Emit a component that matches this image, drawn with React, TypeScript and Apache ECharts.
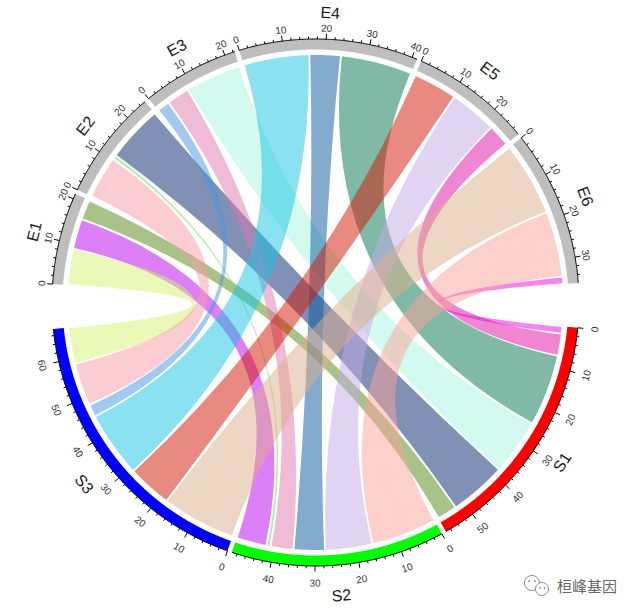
import React, { useEffect, useRef } from 'react';
import * as echarts from 'echarts';

// ---------------- data ----------------
const eSectors = ['E1', 'E2', 'E3', 'E4', 'E5', 'E6'];
const sSectors = ['S1', 'S2', 'S3'];
// link widths: one array per S sector, entries for E1..E6
const s1Links = [4.9, 13.9, 13.7, 17.5, 5.4, 1.8];
const s2Links = [7.4, 1.0, 5.6, 7.6, 11.6, 16.0];
const s3Links = [8.9, 10.5, 3.1, 16.1, 10.8, 18.1];
// link colours (drawn with 50% transparency)
const s1LinkColors = ['#53850F', '#03236D', '#A7F5DD', '#01754D', '#DD0DA5', '#EB0BDD'];
const s2LinkColors = ['#BB00EF', '#6BDD61', '#DF77AD', '#07579D', '#C3A9E5', '#FBA199'];
const s3LinkColors = ['#D5F171', '#F79BA7', '#4793DF', '#15C3E1', '#D11501', '#DDAD8B'];
const eTrackColor = '#BEBEBE';
const sTrackColors = ['#FF0000', '#00FF00', '#0000FF'];
const majorTickStep = 10;
const minorTickStep = 2;

// ---------------- layout ----------------
const matrix = [s1Links, s2Links, s3Links];
const colorMatrix = [s1LinkColors, s2LinkColors, s3LinkColors];
const eSizes = eSectors.map((_, j) => matrix.reduce((s, row) => s + row[j], 0));
const sSizes = matrix.map((row) => row.reduce((a, b) => a + b, 0));
const GAP_SMALL = 1.05;
const GAP_BIG = 10.2;

type Sector = { name: string; start: number; size: number; color: string; group: 'E' | 'S' };
const sectors: Sector[] = [];
let cursor = 0;
eSectors.forEach((n, j) => {
  sectors.push({ name: n, start: cursor, size: eSizes[j], color: eTrackColor, group: 'E' });
  cursor += eSizes[j] + (j < eSectors.length - 1 ? GAP_SMALL : GAP_BIG);
});
sSectors.forEach((n, i) => {
  sectors.push({ name: n, start: cursor, size: sSizes[i], color: sTrackColors[i], group: 'S' });
  cursor += sSizes[i] + (i < sSectors.length - 1 ? GAP_SMALL : GAP_BIG);
});
const TOTAL = cursor;

type Link = { e: [number, number]; s: [number, number]; color: string };
const eRanges: [number, number][][] = matrix.map(() => []);
eSectors.forEach((_, j) => {
  let off = sectors[j].start;
  for (const i of [2, 1, 0]) {
    eRanges[i][j] = [off, off + matrix[i][j]];
    off += matrix[i][j];
  }
});
const sRanges: [number, number][][] = matrix.map(() => []);
sSectors.forEach((_, i) => {
  let off = sectors[eSectors.length + i].start;
  for (const j of [5, 4, 3, 2, 1, 0]) {
    sRanges[i][j] = [off, off + matrix[i][j]];
    off += matrix[i][j];
  }
});
const links: Link[] = [];
eSectors.forEach((_, j) => {
  [0, 1, 2].forEach((i) => {
    links.push({ e: eRanges[i][j], s: sRanges[i][j], color: colorMatrix[i][j] });
  });
});

type Tick = { sector: number; value: number; major: boolean };
const ticksPerSector: Tick[][] = sectors.map((sec, si) => {
  const out: Tick[] = [];
  for (let v = 0; v <= sec.size + 1e-6; v += minorTickStep) {
    out.push({ sector: si, value: v, major: Math.abs(v % majorTickStep) < 1e-6 });
  }
  return out;
});

// radii in px (radius axis runs 0..300 over 300px)
const R_OUT = 263.5;
const R_IN = 253;
const R_LINK = 247.5;
const R_MAJOR = 269;
const R_MINOR = 266;
const SHRINK = 0.22;
const FONT = '"Liberation Sans", Arial, Helvetica, sans-serif';

function hexToRgba(hex: string, a: number) {
  const n = parseInt(hex.slice(1), 16);
  return `rgba(${(n >> 16) & 255},${(n >> 8) & 255},${n & 255},${a})`;
}

function arcPoints(api: any, a0: number, a1: number, r: number) {
  const n = Math.max(2, Math.ceil(Math.abs(a1 - a0) / 0.25));
  const pts: number[][] = [];
  for (let k = 0; k <= n; k++) pts.push(api.coord([r, a0 + ((a1 - a0) * k) / n]));
  return pts;
}

function textRotation(api: any, p: number[]) {
  const c = api.coord([0, 0]);
  const theta = (Math.atan2(-(p[1] - c[1]), p[0] - c[0]) * 180) / Math.PI;
  let rot = theta - 90;
  while (rot > 90) rot -= 180;
  while (rot <= -90) rot += 180;
  return (rot * Math.PI) / 180;
}

const renderLink = (params: any, api: any) => {
  const L = links[params.dataIndex];
  const c = api.coord([0, 0]);
  const a1 = L.e[0] + SHRINK, a2 = L.e[1] - SHRINK;
  const b1 = L.s[0] + SHRINK, b2 = L.s[1] - SHRINK;
  const arcA = arcPoints(api, a1, a2, R_LINK);
  const arcB = arcPoints(api, b1, b2, R_LINK);
  let d = `M${arcA[0][0]},${arcA[0][1]}`;
  for (let k = 1; k < arcA.length; k++) d += `L${arcA[k][0]},${arcA[k][1]}`;
  d += `Q${c[0]},${c[1]} ${arcB[0][0]},${arcB[0][1]}`;
  for (let k = 1; k < arcB.length; k++) d += `L${arcB[k][0]},${arcB[k][1]}`;
  d += `Q${c[0]},${c[1]} ${arcA[0][0]},${arcA[0][1]}Z`;
  return {
    type: 'path',
    shape: { pathData: d },
    style: { fill: hexToRgba(L.color, 0.5), stroke: null },
  };
};

const renderTrack = (params: any, api: any) => {
  const sec = sectors[params.dataIndex];
  const outer = arcPoints(api, sec.start, sec.start + sec.size, R_OUT);
  const inner = arcPoints(api, sec.start + sec.size, sec.start, R_IN);
  const ticks = ticksPerSector[params.dataIndex];
  const children: any[] = [
    { type: 'polygon', shape: { points: outer.concat(inner) }, style: { fill: sec.color } },
    { type: 'polyline', shape: { points: outer }, style: { stroke: '#000', lineWidth: 1, fill: null } },
  ];
  const labelR = sec.group === 'E' ? 274.5 : 280.5;
  ticks.forEach((t) => {
    const p0 = api.coord([R_OUT, sec.start + t.value]);
    const p1 = api.coord([t.major ? R_MAJOR : R_MINOR, sec.start + t.value]);
    children.push({
      type: 'line',
      shape: { x1: p0[0], y1: p0[1], x2: p1[0], y2: p1[1] },
      style: { stroke: '#000', lineWidth: 1 },
    });
    if (t.major) {
      const pl = api.coord([labelR, sec.start + t.value]);
      children.push({
        type: 'text',
        x: pl[0],
        y: pl[1],
        rotation: textRotation(api, pl),
        style: {
          text: String(Math.round(t.value)),
          fill: '#333',
          fontSize: 10,
          fontFamily: FONT,
          align: 'center',
          verticalAlign: 'middle',
          textAlign: 'center',
          textVerticalAlign: 'middle',
        },
      });
    }
  });
  const pn = api.coord([sec.group === 'E' ? 290 : 294, sec.start + sec.size / 2]);
  children.push({
    type: 'text',
    x: pn[0],
    y: pn[1],
    rotation: textRotation(api, pn),
    style: {
      text: sec.name,
      fill: '#1a1a1a',
      fontSize: 16,
      fontFamily: FONT,
      align: 'center',
      verticalAlign: 'middle',
      textAlign: 'center',
      textVerticalAlign: 'middle',
    },
  });
  return { type: 'group', children };
};

const option: any = {
  animation: false,
  backgroundColor: '#ffffff',
  polar: { center: [315.5, 302.5], radius: 300 },
  angleAxis: { type: 'value', min: 0, max: TOTAL, startAngle: 176, clockwise: true, show: false },
  radiusAxis: { type: 'value', min: 0, max: 300, show: false },
  series: [
    {
      type: 'custom',
      coordinateSystem: 'polar',
      renderItem: renderLink,
      data: links.map(() => [0, 0]),
      silent: true,
    },
    {
      type: 'custom',
      coordinateSystem: 'polar',
      renderItem: renderTrack,
      data: sectors.map(() => [0, 0]),
      silent: true,
    },
  ],
  graphic: [
    { type: 'circle', shape: { cx: 532, cy: 583, r: 7.5 }, style: { fill: '#fff', stroke: '#8a8a8a', lineWidth: 1 } },
    { type: 'circle', shape: { cx: 542, cy: 589, r: 6.5 }, style: { fill: '#fff', stroke: '#8a8a8a', lineWidth: 1 } },
    { type: 'circle', shape: { cx: 529, cy: 581, r: 0.9 }, style: { fill: '#8a8a8a' } },
    { type: 'circle', shape: { cx: 535, cy: 581, r: 0.9 }, style: { fill: '#8a8a8a' } },
    { type: 'circle', shape: { cx: 540, cy: 588, r: 0.8 }, style: { fill: '#8a8a8a' } },
    { type: 'circle', shape: { cx: 544.5, cy: 588, r: 0.8 }, style: { fill: '#8a8a8a' } },
    {
      type: 'text',
      x: 557,
      y: 578,
      style: {
        text: '桓峰基因',
        fill: '#666',
        fontSize: 15,
        fontWeight: 'normal',
        fontFamily: '"Noto Sans CJK SC", sans-serif',
      },
    },
  ],
};

export default function App() {
  const ref = useRef<HTMLDivElement>(null);
  useEffect(() => {
    const chart = echarts.init(ref.current as HTMLDivElement, null, { renderer: 'svg' });
    chart.setOption(option);
    return () => chart.dispose();
  }, []);
  return (
    <div
      ref={ref}
      style={{ position: 'absolute', left: 0, top: 0, width: 641, height: 615, background: '#fff' }}
    />
  );
}
